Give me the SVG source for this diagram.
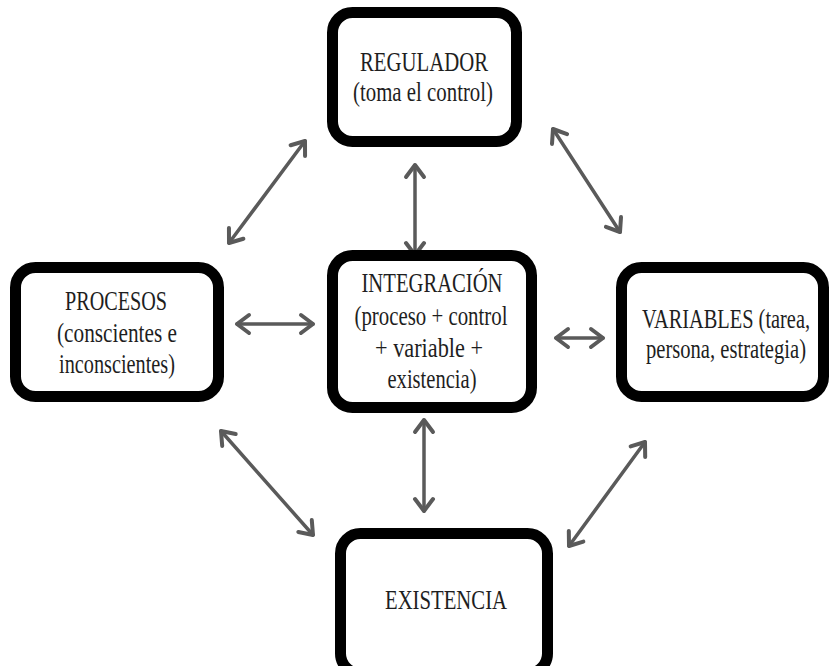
<svg xmlns="http://www.w3.org/2000/svg" width="829" height="666" viewBox="0 0 829 666">
  <style>
    .box { fill: #ffffff; stroke: #000000; stroke-width: 11; }
    .lbl { font-family: 'Liberation Serif', 'Times New Roman', serif; font-size: 27px; fill: #1e1e1e; text-anchor: middle; }
    .link { stroke: #5a5a5a; stroke-width: 3.5; fill: none; stroke-linecap: round; marker-start: url(#head); marker-end: url(#head); }
  </style>
  <defs>
    <!-- open chevron head, reused at both ends of every link -->
    <marker id="head" viewBox="-16 -12 20 24" markerWidth="20" markerHeight="24" refX="0" refY="0" markerUnits="userSpaceOnUse" orient="auto-start-reverse">
      <path d="M-12,-9 L0,0 L-12,9" fill="none" stroke="#5a5a5a" stroke-width="4" stroke-linecap="round" stroke-linejoin="round"/>
    </marker>
  </defs>

  <rect width="829" height="666" fill="#ffffff"/>

  <g id="connectors">
    <line class="link" x1="305" y1="141" x2="229" y2="243"/>
    <line class="link" x1="553" y1="129" x2="620" y2="232"/>
    <line class="link" x1="415" y1="165" x2="415" y2="255"/>
    <line class="link" x1="237" y1="324" x2="313" y2="324"/>
    <line class="link" x1="556" y1="338" x2="603" y2="338"/>
    <line class="link" x1="424" y1="420" x2="424" y2="511"/>
    <line class="link" x1="221" y1="431" x2="313" y2="535"/>
    <line class="link" x1="645" y1="442" x2="569" y2="546"/>
  </g>

  <g id="regulador">
    <rect class="box" x="332.5" y="12.5" width="184" height="129" rx="20"/>
    <text class="lbl" x="424" y="71" textLength="128" lengthAdjust="spacingAndGlyphs">REGULADOR</text>
    <text class="lbl" x="423" y="101" textLength="140" lengthAdjust="spacingAndGlyphs">(toma el control)</text>
  </g>

  <g id="integracion">
    <rect class="box" x="332.5" y="255.5" width="199" height="152" rx="20"/>
    <text class="lbl" x="432" y="292" textLength="141" lengthAdjust="spacingAndGlyphs">INTEGRACIÓN</text>
    <text class="lbl" x="431" y="325" textLength="153" lengthAdjust="spacingAndGlyphs">(proceso + control</text>
    <text class="lbl" x="429" y="357" textLength="108" lengthAdjust="spacingAndGlyphs">+ variable +</text>
    <text class="lbl" x="432" y="388" textLength="89" lengthAdjust="spacingAndGlyphs">existencia)</text>
  </g>

  <g id="procesos">
    <rect class="box" x="15.5" y="267.5" width="203" height="129" rx="20"/>
    <text class="lbl" x="116" y="310" textLength="102" lengthAdjust="spacingAndGlyphs">PROCESOS</text>
    <text class="lbl" x="117" y="342" textLength="120" lengthAdjust="spacingAndGlyphs">(conscientes e</text>
    <text class="lbl" x="117" y="373" textLength="116" lengthAdjust="spacingAndGlyphs">inconscientes)</text>
  </g>

  <g id="variables">
    <rect class="box" x="621.5" y="267.5" width="202" height="129" rx="20"/>
    <text class="lbl" x="726" y="328" font-size="25" textLength="168" lengthAdjust="spacingAndGlyphs">VARIABLES (tarea,</text>
    <text class="lbl" x="726" y="358" font-size="25" textLength="160" lengthAdjust="spacingAndGlyphs">persona, estrategia)</text>
  </g>

  <g id="existencia">
    <rect class="box" x="340.5" y="533.5" width="207" height="140" rx="20"/>
    <text class="lbl" x="446" y="609" textLength="122" lengthAdjust="spacingAndGlyphs">EXISTENCIA</text>
  </g>
</svg>
